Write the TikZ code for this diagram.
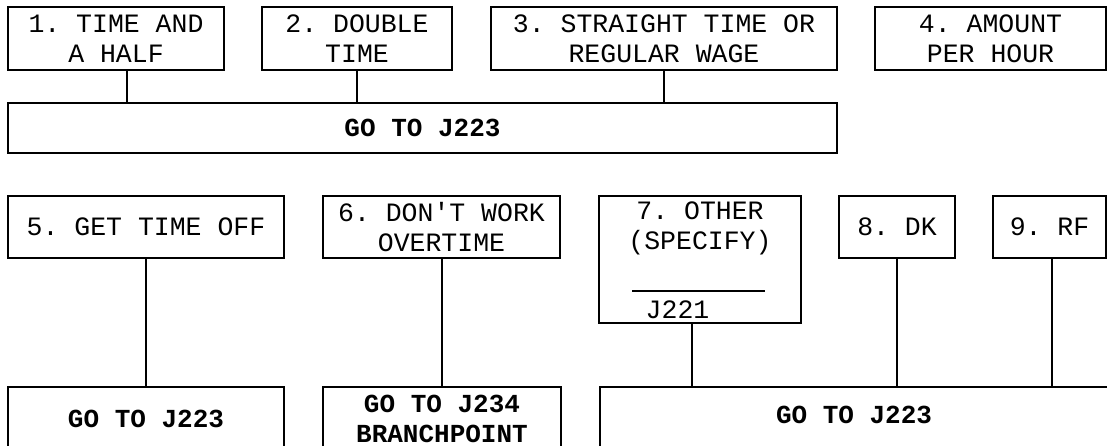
\documentclass[tikz,border=0pt]{standalone}
\usepackage{fontspec}
\setmonofont{Liberation Mono}
\begin{document}
\begin{tikzpicture}[x=1pt,y=-1pt,
  box/.style={draw, line width=2pt, rectangle, inner sep=0pt, align=center,
    font=\ttfamily\fontsize{26.5}{30}\selectfont},
  gobox/.style={box, font=\ttfamily\bfseries\fontsize{26}{30}\selectfont},
  txt/.style={inner sep=0pt, align=center, font=\ttfamily\fontsize{26.5}{30}\selectfont},
  conn/.style={line width=2pt}]
\useasboundingbox (0,0) rectangle (1107,446);
\clip (0,0) rectangle (1107,446);
% top row
\node[box, minimum width=216pt, minimum height=63pt] (b1) at (116,38.5) {1. TIME AND\\A HALF};
\node[box, minimum width=190pt, minimum height=63pt] (b2) at (357,38.5) {2. DOUBLE\\TIME};
\node[box, minimum width=346pt, minimum height=63pt] (b3) at (664,38.5) {3. STRAIGHT TIME OR\\REGULAR WAGE};
\node[box, minimum width=231pt, minimum height=63pt] (b4) at (990.5,38.5) {4. AMOUNT\\PER HOUR};
\node[gobox, minimum width=829pt, minimum height=50pt] (g1) at (422.5,128) {GO TO J223};
% bottom row
\node[box, minimum width=276pt, minimum height=62pt] (b5) at (146,227) {5. GET TIME OFF};
\node[box, minimum width=237pt, minimum height=62pt] (b6) at (441.5,227) {6. DON'T WORK\\OVERTIME};
\node[box, minimum width=202pt, minimum height=127pt] (b7) at (700,259.5) {};
\node[txt] (b7t) at (700,228) {7. OTHER\\(SPECIFY)};
\path (b7.north west) ++(34,96) coordinate (l1) ++(133,0) coordinate (l2);
\draw[conn] (l1) -- (l2);
\node[txt] (b7j) at (677.5,310) {J221};
\node[box, minimum width=116pt, minimum height=62pt] (b8) at (897,227) {8. DK};
\node[box, minimum width=113pt, minimum height=62pt] (b9) at (1049.5,227) {9. RF};
\node[gobox, minimum width=276pt, minimum height=64pt] (g5) at (146,419) {GO TO J223};
\node[gobox, minimum width=238pt, minimum height=64pt] (g6) at (442,419) {GO TO J234\\BRANCHPOINT};
\node[gobox, minimum width=530pt, minimum height=64pt] (g7) at (865,419) {};
\node[txt, font=\ttfamily\bfseries\fontsize{26}{30}\selectfont] (g7t) at (854,415) {GO TO J223};
% connectors
\path (b1.south west) ++(120,0) coordinate (c1);
\draw[conn] (c1) -- (c1 |- g1.north);
\draw[conn] (b2.south) -- (b2.south |- g1.north);
\draw[conn] (b3.south) -- (b3.south |- g1.north);
\draw[conn] (b5.south) -- (g5.north);
\draw[conn] (b6.south) -- (b6.south |- g6.north);
\path (b7.south west) ++(94,0) coordinate (c7);
\draw[conn] (c7) -- (c7 |- g7.north);
\draw[conn] (b8.south) -- (b8.south |- g7.north);
\path (b9.south west) ++(60,0) coordinate (c9);
\draw[conn] (c9) -- (c9 |- g7.north);
\end{tikzpicture}
\end{document}
